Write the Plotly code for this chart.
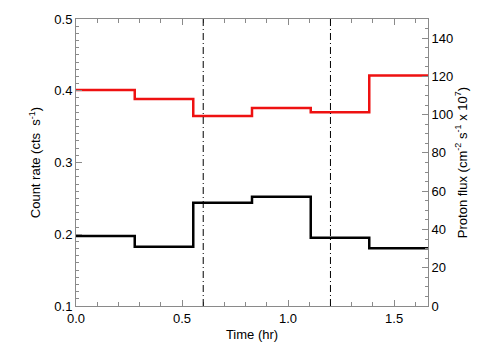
import plotly.graph_objects as go

# Bin edges (hr)
time_edges = [0.0, 0.277, 0.553, 0.830, 1.107, 1.383, 1.66]
# Count rate (cts s^-1), left axis
count_rate = [0.1976, 0.1826, 0.244, 0.2523, 0.1952, 0.1804]
# Proton flux (cm^-2 s^-1 x 10^7), right axis
proton_flux = [112.9, 108.2, 99.3, 103.5, 101.2, 120.5]
# Marker times (hr)
marker_times = [0.6, 1.2]

font_family = "Liberation Sans, Arial, Helvetica, sans-serif"
axis_grey = "#8a8a8a"
tfont = dict(family=font_family, size=13, color="black")

fig = go.Figure()
fig.add_trace(go.Scatter(
    x=time_edges, y=count_rate + [count_rate[-1]],
    mode="lines", line=dict(shape="hv", color="black", width=2.5),
    yaxis="y", showlegend=False))
fig.add_trace(go.Scatter(
    x=time_edges, y=proton_flux + [proton_flux[-1]],
    mode="lines", line=dict(shape="hv", color="#ee1111", width=2.5),
    yaxis="y2", showlegend=False))

for t in marker_times:
    fig.add_shape(type="line", x0=t, x1=t, y0=0, y1=1, xref="x", yref="paper",
                  line=dict(color="black", width=1, dash="7px,3px,1px,3px"))

fig.update_layout(
    width=504, height=360,
    margin=dict(l=76, r=76, t=19, b=54, autoexpand=False),
    paper_bgcolor="white", plot_bgcolor="white",
    font=tfont,
    xaxis=dict(
        range=[0, 1.66], dtick=0.5, tick0=0, tickformat=".1f",
        ticks="inside", ticklen=6, tickcolor=axis_grey,
        showline=True, linecolor=axis_grey, linewidth=1, mirror="ticks",
        showgrid=False, zeroline=False, automargin=False,
        tickfont=tfont,
        minor=dict(dtick=0.1, ticks="inside", ticklen=4, tickcolor=axis_grey),
        title=dict(text="Time (hr)", standoff=5, font=tfont),
    ),
    yaxis=dict(
        range=[0.1, 0.5], dtick=0.1, tick0=0.1, tickformat=".1f",
        ticks="inside", ticklen=6, tickcolor=axis_grey,
        showline=True, linecolor=axis_grey, linewidth=1,
        showgrid=False, zeroline=False, automargin=False,
        tickfont=tfont,
        minor=dict(dtick=0.01, ticks="inside", ticklen=3, tickcolor=axis_grey),
        title=dict(text="Count rate (cts  s<sup>-1</sup>)", standoff=10, font=tfont),
    ),
    yaxis2=dict(
        range=[0, 150], dtick=20, tick0=0, overlaying="y", side="right",
        ticks="inside", ticklen=6, tickcolor=axis_grey,
        showline=True, linecolor=axis_grey, linewidth=1,
        showgrid=False, zeroline=False, automargin=False,
        tickfont=tfont,
        minor=dict(dtick=5, ticks="inside", ticklen=3, tickcolor=axis_grey),
        title=dict(text="Proton flux (cm<sup>-2</sup> s<sup>-1</sup> x 10<sup>7</sup>)", standoff=4, font=tfont),
    ),
)

fig.write_html("out.html", config={"displayModeBar": False},
               post_script="document.body.style.margin='0';")
